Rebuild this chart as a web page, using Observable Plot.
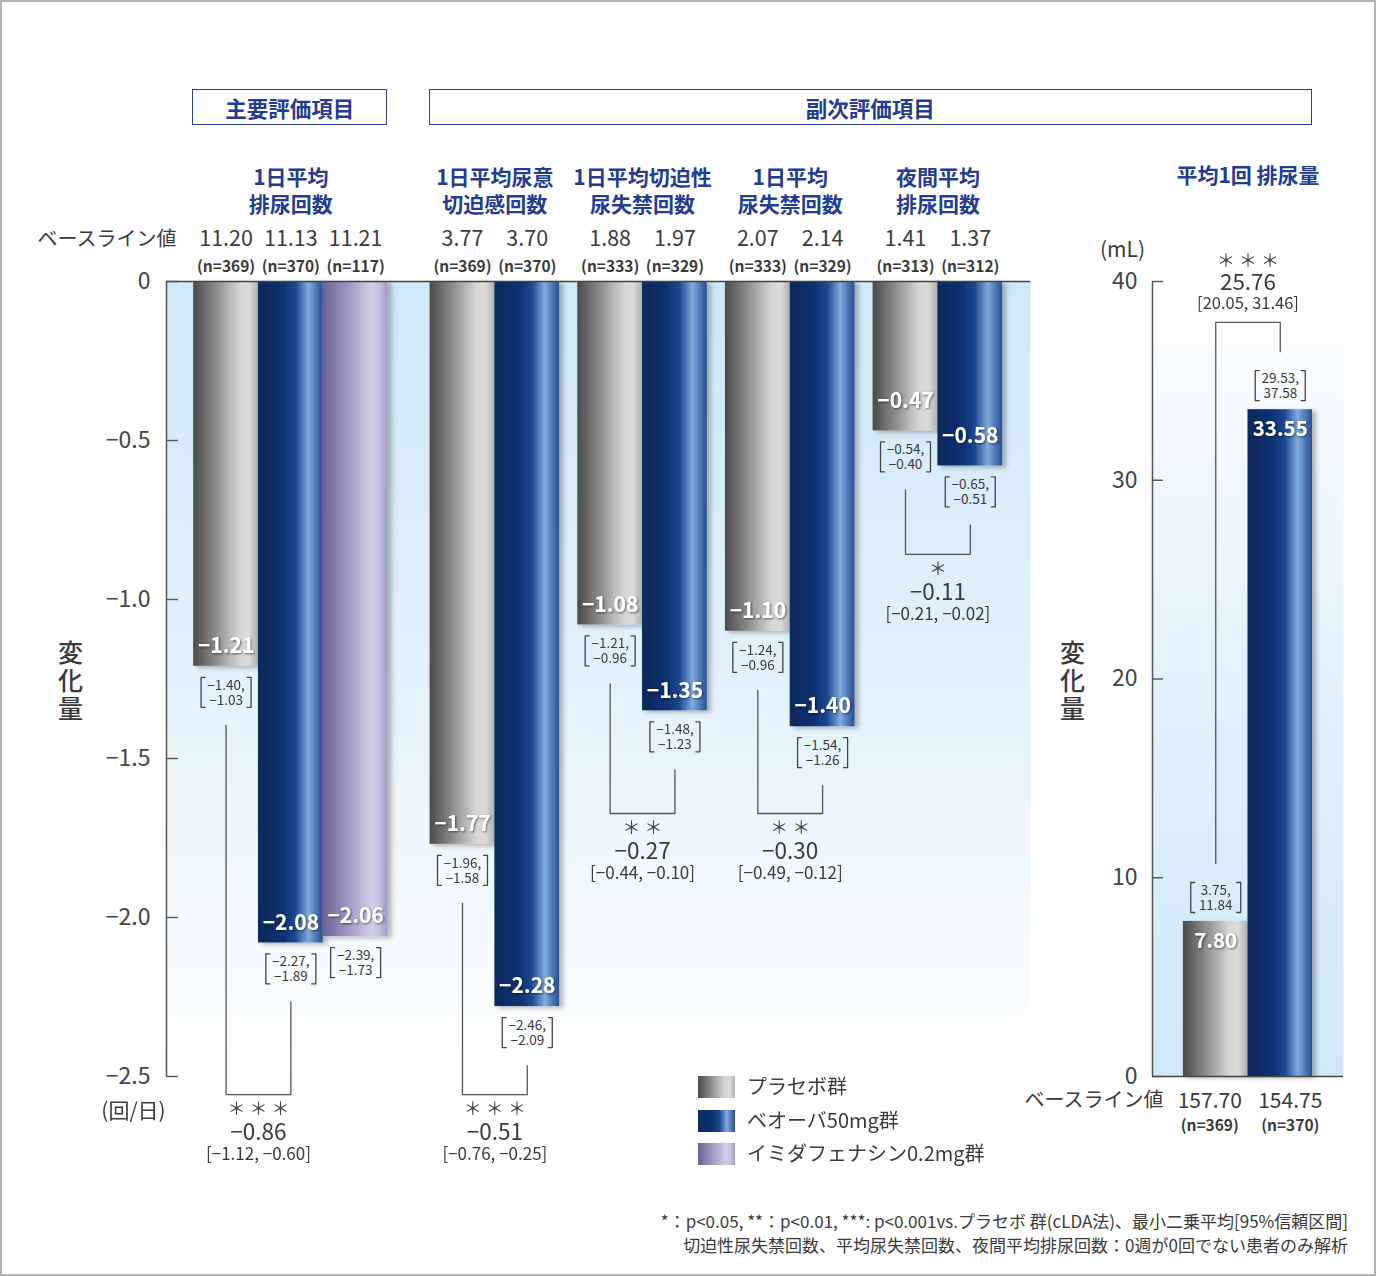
<!DOCTYPE html>
<html>
<head>
<meta charset="utf-8">
<script src="https://cdn.jsdelivr.net/npm/d3@7"></script>
<script src="https://cdn.jsdelivr.net/npm/@observablehq/plot@0.6"></script>
<style>
  html, body { margin: 0; padding: 0; background: #fff; }
  #root { position: relative; width: 1376px; height: 1276px; overflow: hidden; background: #fff;
          font-family: 'Noto Sans CJK JP', 'Noto Sans', sans-serif; color: #3a3a3a; }
  .hbox { position: absolute; box-sizing: border-box; border: 1.5px solid #2a3f96; color: #233c94;
          font-weight: bold; font-size: 21.5px; display: flex; align-items: center; justify-content: center; }
  .sw { position: absolute; width: 37px; height: 22px; }
  .lg { position: absolute; font-size: 20px; line-height: 22px; white-space: nowrap; }
  .fn { position: absolute; right: 28px; font-size: 17px; line-height: 24px; text-align: right; white-space: nowrap; }
  .frameBorder { position: absolute; left: 0; top: 0; width: 1376px; height: 1276px; box-sizing: border-box;
                 border: 2px solid #b4b4b4; pointer-events: none; }
</style>
</head>
<body>
<div id="root"></div>
<script>
// ---------------- data ----------------
const endpoints = ["1日平均\n排尿回数", "1日平均尿意\n切迫感回数", "1日平均切迫性\n尿失禁回数", "1日平均\n尿失禁回数", "夜間平均\n排尿回数"];
const endpointRight = "平均1回 排尿量";
const seriesNames = ["プラセボ群", "ベオーバ50mg群", "イミダフェナシン0.2mg群"];
const headerPrimary = "主要評価項目";
const headerSecondary = "副次評価項目";
const baselineLabel = "ベースライン値";

const placeboChange   = [-1.21, -1.77, -1.08, -1.10, -0.47];
const placeboLo       = [-1.40, -1.96, -1.21, -1.24, -0.54];
const placeboHi       = [-1.03, -1.58, -0.96, -0.96, -0.40];
const placeboBaseline = [11.20, 3.77, 1.88, 2.07, 1.41];
const placeboN        = [369, 369, 333, 333, 313];

const vibegronChange   = [-2.08, -2.28, -1.35, -1.40, -0.58];
const vibegronLo       = [-2.27, -2.46, -1.48, -1.54, -0.65];
const vibegronHi       = [-1.89, -2.09, -1.23, -1.26, -0.51];
const vibegronBaseline = [11.13, 3.70, 1.97, 2.14, 1.37];
const vibegronN        = [370, 370, 329, 329, 312];

const imidafenacinChange   = [-2.06];
const imidafenacinLo       = [-2.39];
const imidafenacinHi       = [-1.73];
const imidafenacinBaseline = [11.21];
const imidafenacinN        = [117];

const diffValue = [-0.86, -0.51, -0.27, -0.30, -0.11];
const diffLo    = [-1.12, -0.76, -0.44, -0.49, -0.21];
const diffHi    = [-0.60, -0.25, -0.10, -0.12, -0.02];
const diffSig   = ["＊＊＊", "＊＊＊", "＊＊", "＊＊", "＊"];
const yTicksLeft = [0, -0.5, -1.0, -1.5, -2.0, -2.5];
const unitLeft = "(回/日)";
const yLabel = "変\n化\n量";

const volumeChange   = [7.80, 33.55];
const volumeLo       = [3.75, 29.53];
const volumeHi       = [11.84, 37.58];
const volumeBaseline = [157.70, 154.75];
const volumeN        = [369, 370];
const volumeDiff = [25.76];
const volumeDiffLo = [20.05];
const volumeDiffHi = [31.46];
const volumeSig = ["＊＊＊"];
const yTicksRight = [0, 10, 20, 30, 40];
const unitRight = "(mL)";

const footnotes = [
  "*：p<0.05, **：p<0.01, ***: p<0.001vs.プラセボ 群(cLDA法)、最小二乗平均[95%信頼区間]",
  "切迫性尿失禁回数、平均尿失禁回数、夜間平均排尿回数：0週が0回でない患者のみ解析"
];

// ---------------- layout / style ----------------
const FONT = "'Noto Sans CJK JP', 'Noto Sans', sans-serif";
const BLUE = "#233c94";
const INK = "#3a3a3a";
const H = 1276;
const LP = {x: 0, width: 1040, mt: 281, mb: 200, ml: 166, mr: 10, padStart: 0.42, gaps: [0, 0.65, 0.28, 0.28, 0.28], padEnd: 0.43};
const RP = {x: 1040, width: 336, mt: 281, mb: 200, ml: 112, mr: 33, padStart: 0.48, padEnd: 0.48};
const bracketBottomL = [-2.557, -2.557, -1.673, -1.673, -0.858];
const valueLabelDyL = [-20, -20, -20, -20, -30];
const baselineDxR = [-6, 10];
const bracketTopR = 37.94;
const FILLS = ["url(#gPlacebo)", "url(#gVibegron)", "url(#gImida)"];
const STOPS = [
  [[0, "#4a4a4a"], [0.35, "#8c8c8c"], [0.72, "#d6d6d6"], [0.86, "#dadada"], [1, "#b0b0b0"]],
  [[0, "#10295a"], [0.38, "#0d3172"], [0.58, "#1c4891"], [0.78, "#80abdc"], [0.9, "#4c77b6"], [1, "#2b4e94"]],
  [[0, "#6d6393"], [0.35, "#9a90c0"], [0.75, "#d2cee7"], [0.88, "#c4bfdf"], [1, "#a199c4"]]
];
const fmt = d3.format(".2f");
const fmt1 = d => d === 0 ? "0" : d3.format(".1f")(d);
const stars = s => [...s].join(" ");

// ---------------- derived rows ----------------
let cur = LP.padStart;
const barsL = [];
endpoints.forEach((ep, g) => {
  cur += LP.gaps[g];
  const mem = [
    {s: 0, v: placeboChange[g], lo: placeboLo[g], hi: placeboHi[g], base: placeboBaseline[g], n: placeboN[g]},
    {s: 1, v: vibegronChange[g], lo: vibegronLo[g], hi: vibegronHi[g], base: vibegronBaseline[g], n: vibegronN[g]}
  ];
  if (g < imidafenacinChange.length)
    mem.push({s: 2, v: imidafenacinChange[g], lo: imidafenacinLo[g], hi: imidafenacinHi[g], base: imidafenacinBaseline[g], n: imidafenacinN[g]});
  mem.forEach(m => { barsL.push({...m, g, x1: cur, x2: cur + 1, xc: cur + 0.5}); cur += 1; });
});
const xMaxL = cur + LP.padEnd;
const groupsL = endpoints.map((ep, g) => {
  const b = barsL.filter(d => d.g === g);
  return {ep, g, xc: (b[0].x1 + b[b.length - 1].x2) / 2, pl: b[0], vb: b[1],
          mid: (b[0].xc + b[1].xc) / 2, sig: diffSig[g], dv: diffValue[g], dlo: diffLo[g], dhi: diffHi[g]};
});
const pxYL = (H - LP.mt - LP.mb) / 2.5;
const pxXL = (LP.width - LP.ml - LP.mr) / xMaxL;
const toYL = (v, px) => v - px / pxYL;
const toXL = (x, px) => x + px / pxXL;

const barsR = volumeChange.map((v, i) => ({s: i, v, lo: volumeLo[i], hi: volumeHi[i], base: volumeBaseline[i], n: volumeN[i],
  x1: RP.padStart + i, x2: RP.padStart + i + 1, xc: RP.padStart + i + 0.5}));
const xMaxR = RP.padStart + barsR.length + RP.padEnd;
const pxYR = (H - RP.mt - RP.mb) / 40;
const pxXR = (RP.width - RP.ml - RP.mr) / xMaxR;
const toYR = (v, px) => v - px / pxYR;
const toXR = (x, px) => x + px / pxXR;

function ciBracketPts(rows, toX, toY, topPx, botPx) {
  const pts = [];
  rows.forEach((d, i) => {
    for (const side of [-1, 1]) {
      const id = i + (side < 0 ? "L" : "R");
      const xo = toX(d.xc, side * 25), xi = toX(d.xc, side * 21);
      const yt = toY(d.v, topPx), yb = toY(d.v, botPx);
      pts.push({id, x: xi, y: yt}, {id, x: xo, y: yt}, {id, x: xo, y: yb}, {id, x: xi, y: yb});
    }
  });
  return pts;
}

const sigPtsL = groupsL.flatMap(gr => [
  {id: gr.g, x: gr.pl.xc, y: toYL(gr.pl.v, 59)},
  {id: gr.g, x: gr.pl.xc, y: bracketBottomL[gr.g]},
  {id: gr.g, x: gr.vb.xc, y: bracketBottomL[gr.g]},
  {id: gr.g, x: gr.vb.xc, y: toYL(gr.vb.v, 59)}
]);
const sigPtsR = [
  {id: 0, x: barsR[0].xc, y: toYR(barsR[0].v, -58)},
  {id: 0, x: barsR[0].xc, y: bracketTopR},
  {id: 0, x: barsR[1].xc, y: bracketTopR},
  {id: 0, x: barsR[1].xc, y: toYR(barsR[1].v, -58)}
];
const diffR = [{x: (barsR[0].xc + barsR[1].xc) / 2, y: bracketTopR, sig: volumeSig[0], dv: volumeDiff[0], dlo: volumeDiffLo[0], dhi: volumeDiffHi[0]}];

// ---------------- plots ----------------
const baseStyle = {background: "none", overflow: "visible", fontFamily: FONT, color: INK, fontSize: "16px"};

const left = Plot.plot({
  width: LP.width, height: H,
  marginTop: LP.mt, marginBottom: LP.mb, marginLeft: LP.ml, marginRight: LP.mr,
  style: baseStyle,
  x: {domain: [0, xMaxL], axis: null},
  y: {domain: [-2.5, 0], axis: null},
  marks: [
    Plot.frame({fill: "url(#bgL)", stroke: "none"}),
    ...[0, 1, 2].map(s => Plot.rect(barsL.filter(d => d.s === s), {x1: "x1", x2: "x2", y1: 0, y2: "v", fill: FILLS[s]})),
    Plot.ruleY([0], {stroke: "#444", strokeWidth: 1.6}),
    Plot.ruleX([0], {y1: -2.5, y2: 0, stroke: "#555", strokeWidth: 1.5}),
    Plot.ruleY(yTicksLeft, {y: d => d, x1: 0, x2: 12 / pxXL, stroke: "#555", strokeWidth: 1.4}),
    Plot.axisY({ticks: yTicksLeft, tickSize: 0, tickPadding: 16, tickFormat: fmt1, fontSize: 23, fill: "#444"}),
    ...[0, 1, 2, 3, 4].map(g => Plot.text(barsL.filter(d => d.g === g), {x: "xc", y: "v", dy: valueLabelDyL[g], text: d => fmt(d.v), fill: "white", fontSize: 21, fontWeight: "bold"})),
    Plot.text(barsL, {x: "xc", y: "v", dy: 26, text: d => `${fmt(d.lo)},\n${fmt(d.hi)}`, fontSize: 13.5, lineHeight: 1.12, fill: INK}),
    Plot.line(ciBracketPts(barsL, toXL, toYL, 11, 41), {x: "x", y: "y", z: "id", stroke: "#444", strokeWidth: 1.3}),
    Plot.text(barsL, {x: "xc", y: 0, dy: -42, text: d => fmt(d.base), fontSize: 21.5, fill: INK}),
    Plot.text(barsL, {x: "xc", y: 0, dy: -14.5, text: d => `(n=${d.n})`, fontSize: 15.5, fontWeight: "bold", fill: INK}),
    Plot.text(groupsL, {x: "xc", y: 0, dy: -92, text: "ep", fontSize: 21, fontWeight: "bold", fill: BLUE, lineHeight: 1.29}),
    Plot.text([baselineLabel], {x: 0, y: 0, dx: 10, dy: -42, textAnchor: "end", fontSize: 20, fill: INK}),
    Plot.line(sigPtsL, {x: "x", y: "y", z: "id", stroke: "#555", strokeWidth: 1.3}),
    Plot.text(groupsL, {x: "mid", y: g => bracketBottomL[g.g], dy: 15, text: d => stars(d.sig), fontSize: 18, fill: "#444"}),
    Plot.text(groupsL, {x: "mid", y: g => bracketBottomL[g.g], dy: 38, text: d => fmt(d.dv), fontSize: 22.5, fill: INK}),
    Plot.text(groupsL, {x: "mid", y: g => bracketBottomL[g.g], dy: 60, text: d => `[${fmt(d.dlo)}, ${fmt(d.dhi)}]`, fontSize: 17, fill: INK}),
    Plot.text([yLabel], {frameAnchor: "left", textAnchor: "middle", dx: -96, dy: 2, fontSize: 25, lineHeight: 1.12, fontWeight: 500, fill: INK}),
    Plot.text([unitLeft], {frameAnchor: "bottom-left", textAnchor: "middle", dx: -33, dy: 41, fontSize: 21, fill: INK})
  ]
});

const right = Plot.plot({
  width: RP.width, height: H,
  marginTop: RP.mt, marginBottom: RP.mb, marginLeft: RP.ml, marginRight: RP.mr,
  style: baseStyle,
  x: {domain: [0, xMaxR], axis: null},
  y: {domain: [0, 40], axis: null},
  marks: [
    Plot.frame({fill: "url(#bgR)", stroke: "none"}),
    ...[0, 1].map(s => Plot.rect(barsR.filter(d => d.s === s), {x1: "x1", x2: "x2", y1: 0, y2: "v", fill: FILLS[s]})),
    Plot.ruleY([0], {stroke: "#444", strokeWidth: 1.6}),
    Plot.ruleX([0], {y1: 0, y2: 40, stroke: "#555", strokeWidth: 1.5}),
    Plot.ruleY(yTicksRight, {y: d => d, x1: 0, x2: 11 / pxXR, stroke: "#555", strokeWidth: 1.4}),
    Plot.axisY({ticks: yTicksRight, tickSize: 0, tickPadding: 15, tickFormat: d => String(d), fontSize: 23, fill: "#444"}),
    Plot.text(barsR, {x: "xc", y: "v", dy: 20, text: d => fmt(d.v), fill: "white", fontSize: 20.5, fontWeight: "bold"}),
    Plot.text(barsR, {x: "xc", y: "v", dy: -24, text: d => `${fmt(d.lo)},\n${fmt(d.hi)}`, fontSize: 13.5, lineHeight: 1.12, fill: INK}),
    Plot.line(ciBracketPts(barsR, toXR, toYR, -39, -9), {x: "x", y: "y", z: "id", stroke: "#444", strokeWidth: 1.3}),
    ...[0, 1].map(i => Plot.text([barsR[i]], {x: "xc", y: 0, dx: baselineDxR[i], dy: 24.5, text: d => fmt(d.base), fontSize: 21, fill: INK})),
    ...[0, 1].map(i => Plot.text([barsR[i]], {x: "xc", y: 0, dx: baselineDxR[i], dy: 50, text: d => `(n=${d.n})`, fontSize: 15.5, fontWeight: "bold", fill: INK})),
    Plot.text([baselineLabel], {x: 0, y: 0, dx: 11, dy: 24.5, textAnchor: "end", fontSize: 20, fill: INK}),
    Plot.text([endpointRight], {x: (barsR[0].x1 + barsR[1].x2) / 2, y: 40, dy: -105, fontSize: 21, fontWeight: "bold", fill: BLUE}),
    Plot.line(sigPtsR, {x: "x", y: "y", z: "id", stroke: "#555", strokeWidth: 1.3}),
    Plot.text(diffR, {x: "x", y: "y", dy: -61, text: d => stars(d.sig), fontSize: 18, fill: "#444"}),
    Plot.text(diffR, {x: "x", y: "y", dy: -40, text: d => fmt(d.dv), fontSize: 22.5, fill: INK}),
    Plot.text(diffR, {x: "x", y: "y", dy: -18.5, text: d => `[${fmt(d.dlo)}, ${fmt(d.dhi)}]`, fontSize: 16.5, fill: INK}),
    Plot.text([yLabel], {frameAnchor: "left", textAnchor: "middle", dx: -80, dy: 2, fontSize: 25, lineHeight: 1.12, fontWeight: 500, fill: INK}),
    Plot.text([unitRight], {frameAnchor: "top-left", textAnchor: "middle", dx: -30, dy: -39, fontSize: 21, fill: INK})
  ]
});

function decorate(svg) {
  const sel = d3.select(svg);
  const defs = sel.insert("defs", ":first-child");
  ["gPlacebo", "gVibegron", "gImida"].forEach((id, i) => {
    const lg = defs.append("linearGradient").attr("id", id).attr("x1", 0).attr("y1", 0).attr("x2", 1).attr("y2", 0);
    STOPS[i].forEach(([o, c]) => lg.append("stop").attr("offset", o).attr("stop-color", c));
  });
  const bgL = defs.append("linearGradient").attr("id", "bgL").attr("x1", 0).attr("y1", 0).attr("x2", 0).attr("y2", 1);
  [[0, "#cfe8f7"], [0.5, "#e2f1fb"], [1, "#ffffff"]].forEach(([o, c]) => bgL.append("stop").attr("offset", o).attr("stop-color", c));
  const bgR = defs.append("linearGradient").attr("id", "bgR").attr("x1", 0).attr("y1", 0).attr("x2", 0).attr("y2", 1);
  [[0, "#ffffff"], [0.5, "#e2f1fb"], [1, "#cfe8f7"]].forEach(([o, c]) => bgR.append("stop").attr("offset", o).attr("stop-color", c));
  defs.append("filter").attr("id", "barShadow").attr("x", "-20%").attr("y", "-5%").attr("width", "150%").attr("height", "115%")
    .append("feDropShadow").attr("dx", 4).attr("dy", 2).attr("stdDeviation", 2.5).attr("flood-color", "#000").attr("flood-opacity", 0.28);
  defs.append("filter").attr("id", "txtShadow").attr("x", "-10%").attr("y", "-20%").attr("width", "130%").attr("height", "150%")
    .append("feDropShadow").attr("dx", 1).attr("dy", 1).attr("stdDeviation", 0.8).attr("flood-color", "#000").attr("flood-opacity", 0.55);
  sel.selectAll('g[aria-label="rect"]').attr("filter", "url(#barShadow)");
  sel.selectAll('g[aria-label="text"][fill="white"]').attr("filter", "url(#txtShadow)");
}

const root = document.getElementById("root");
[[left, LP.x], [right, RP.x]].forEach(([svg, x]) => {
  decorate(svg);
  svg.style.position = "absolute";
  svg.style.left = x + "px";
  svg.style.top = "0px";
  root.appendChild(svg);
});

// header boxes
function addBox(text, x1, x2) {
  const d = document.createElement("div");
  d.className = "hbox";
  d.style.left = x1 + "px"; d.style.width = (x2 - x1) + "px";
  d.style.top = "89px"; d.style.height = "36px";
  d.textContent = text;
  root.appendChild(d);
}
const pxL = u => LP.x + LP.ml + u * pxXL;
const pxR = u => RP.x + RP.ml + u * pxXR;
addBox(headerPrimary, pxL(groupsL[0].pl.x1) - 1, pxL(barsL.filter(d => d.g === 0).slice(-1)[0].x2));
addBox(headerSecondary, pxL(groupsL[1].pl.x1) - 1, pxR(barsR[1].x2));

// legend
const gradCss = STOPS.map(st => "linear-gradient(to right," + st.map(([o, c]) => `${c} ${o * 100}%`).join(",") + ")");
seriesNames.forEach((name, i) => {
  const top = 1076 + i * 33.5;
  const sw = document.createElement("div");
  sw.className = "sw"; sw.style.left = "698px"; sw.style.top = top + "px"; sw.style.background = gradCss[i];
  root.appendChild(sw);
  const lg = document.createElement("div");
  lg.className = "lg"; lg.style.left = "747px"; lg.style.top = (top - 1) + "px"; lg.textContent = name;
  root.appendChild(lg);
});

// footnotes
footnotes.forEach((t, i) => {
  const f = document.createElement("div");
  f.className = "fn"; f.style.top = (1209 + i * 24) + "px"; f.textContent = t;
  root.appendChild(f);
});

const border = document.createElement("div");
border.className = "frameBorder";
root.appendChild(border);
</script>
</body>
</html>
